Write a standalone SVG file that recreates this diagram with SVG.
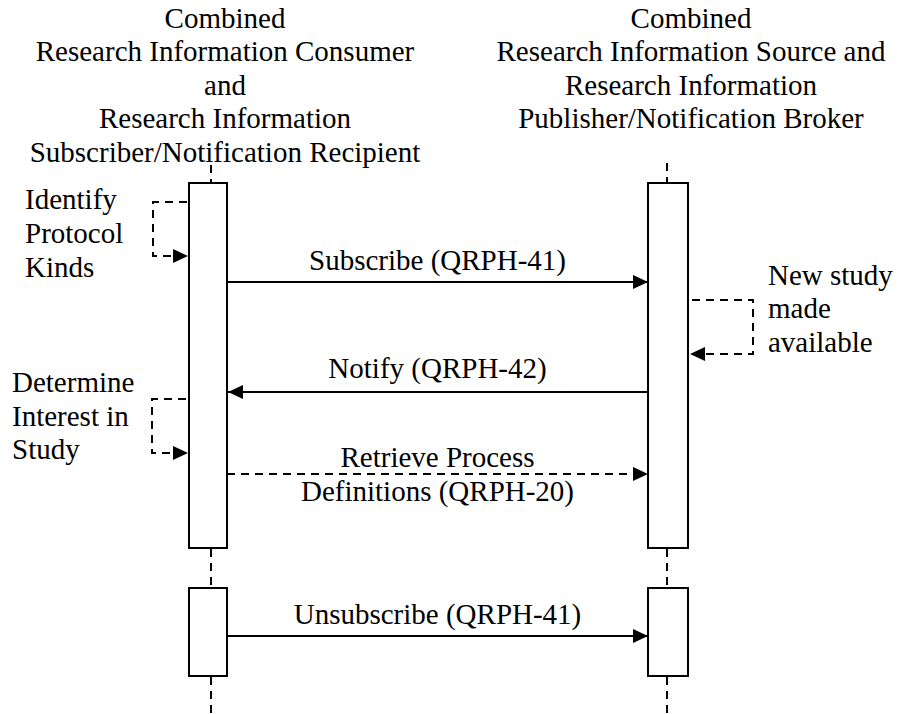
<svg xmlns="http://www.w3.org/2000/svg" width="898" height="714" viewBox="0 0 898 714">
<defs>
<marker id="ah" markerWidth="16" markerHeight="14" refX="15" refY="7" orient="auto" markerUnits="userSpaceOnUse">
<path d="M0,0 L15,7 L0,14 Z" fill="#000"/>
</marker>
<style>
text{font-family:"Liberation Serif","Times New Roman",serif;font-size:29px;fill:#000}
.c{text-anchor:middle}
.box{fill:#fff;stroke:#000;stroke-width:2}
.life{stroke:#000;stroke-width:2;stroke-dasharray:8,6;fill:none}
.msg{stroke:#000;stroke-width:2;fill:none;marker-end:url(#ah)}
.dash{stroke-dasharray:8,6}
</style>
</defs>
<rect width="898" height="714" fill="#fff"/>
<g id="header-left">
<text class="c" x="225" y="27.5">Combined</text>
<text class="c" x="225" y="61">Research Information Consumer</text>
<text class="c" x="225" y="94.5">and</text>
<text class="c" x="225" y="128">Research Information</text>
<text class="c" x="225" y="161.5">Subscriber/Notification Recipient</text>
</g>
<g id="header-right">
<text class="c" x="691" y="27.5">Combined</text>
<text class="c" x="691" y="61">Research Information Source and</text>
<text class="c" x="691" y="94.5">Research Information</text>
<text class="c" x="691" y="128">Publisher/Notification Broker</text>
</g>
<g id="lifelines">
<line class="life" x1="211" y1="165" x2="211" y2="183"/>
<line class="life" x1="211" y1="549" x2="211" y2="588"/>
<line class="life" x1="211" y1="677" x2="211" y2="714"/>
<line class="life" x1="667" y1="163" x2="667" y2="183"/>
<line class="life" x1="667" y1="549" x2="667" y2="588"/>
<line class="life" x1="667" y1="677" x2="667" y2="714"/>
</g>
<g id="consumer-act1"><rect class="box" x="189" y="183" width="38" height="365"/></g>
<g id="consumer-act2"><rect class="box" x="189" y="588" width="38" height="88"/></g>
<g id="broker-act1"><rect class="box" x="648" y="183" width="40" height="365"/></g>
<g id="broker-act2"><rect class="box" x="648" y="588" width="40" height="88"/></g>
<g id="connectors">
<path class="msg dash" d="M187,202 H153 V256 H188"/>
<line class="msg" x1="227" y1="282" x2="648" y2="282"/>
<path class="msg dash" d="M692,300 H753 V354 H690"/>
<line class="msg" x1="648" y1="392" x2="228" y2="392"/>
<path class="msg dash" d="M186,399 H152 V453 H188"/>
<line class="msg dash" x1="227" y1="474" x2="648" y2="474"/>
<line class="msg" x1="227" y1="636" x2="648" y2="636"/>
</g>
<g id="labels">
<text x="25" y="209">Identify</text>
<text x="25" y="243">Protocol</text>
<text x="25" y="277">Kinds</text>
<text x="768" y="285">New study</text>
<text x="768" y="318">made</text>
<text x="768" y="352">available</text>
<text x="12" y="392">Determine</text>
<text x="12" y="425.5">Interest in</text>
<text x="12" y="459">Study</text>
<text class="c" x="437.5" y="270">Subscribe (QRPH-41)</text>
<text class="c" x="437.5" y="378">Notify (QRPH-42)</text>
<text class="c" x="437.5" y="467">Retrieve Process</text>
<text class="c" x="437.5" y="500.5">Definitions (QRPH-20)</text>
<text class="c" x="437.5" y="624">Unsubscribe (QRPH-41)</text>
</g>
</svg>
